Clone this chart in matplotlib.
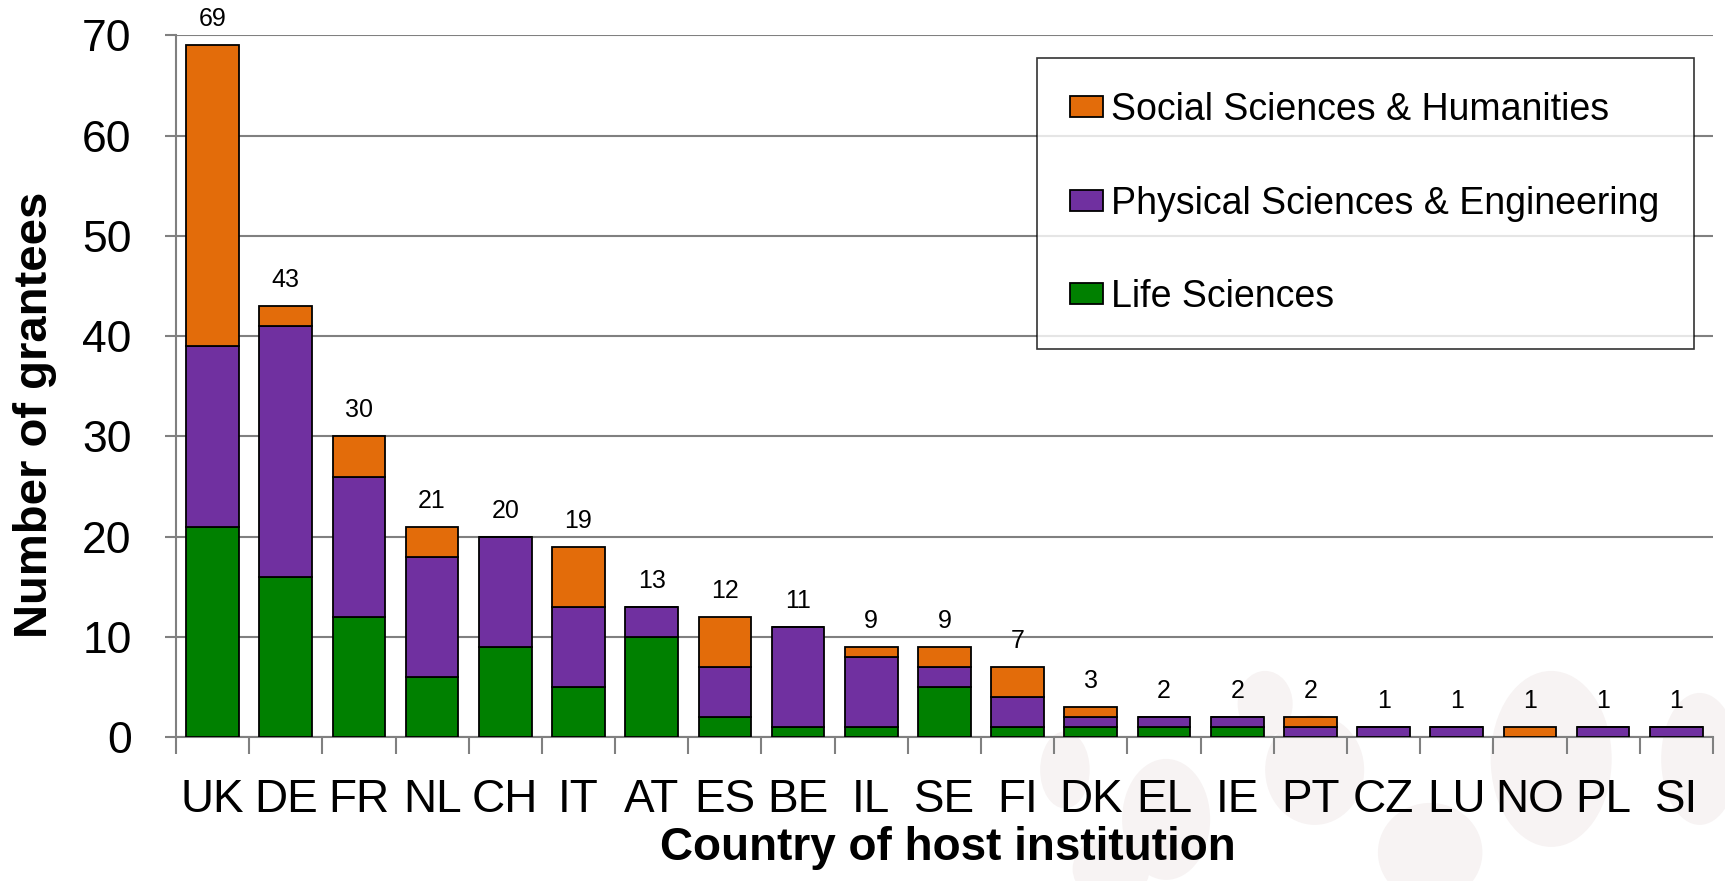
import matplotlib.pyplot as plt
import numpy as np
from matplotlib.patches import Ellipse, Rectangle
from matplotlib.legend_handler import HandlerPatch

countries = ["UK", "DE", "FR", "NL", "CH", "IT", "AT", "ES", "BE", "IL", "SE",
             "FI", "DK", "EL", "IE", "PT", "CZ", "LU", "NO", "PL", "SI"]
life = [21, 16, 12, 6, 9, 5, 10, 2, 1, 1, 5, 1, 1, 1, 1, 0, 0, 0, 0, 0, 0]
physical = [18, 25, 14, 12, 11, 8, 3, 5, 10, 7, 2, 3, 1, 1, 1, 1, 1, 1, 0, 1, 1]
social = [30, 2, 4, 3, 0, 6, 0, 5, 0, 1, 2, 3, 1, 0, 0, 1, 0, 0, 1, 0, 0]

plt.rcParams['font.family'] = ['Liberation Sans', 'DejaVu Sans']

fig = plt.figure(figsize=(17.25, 8.81), dpi=100)

# faint decorative blobs behind the chart, bottom right (pixel centre x, y, width, height)
W, H = 1568, 801
for cx, cy, bw, bh in [(968, 700, 45, 70), (1060, 745, 80, 110), (1195, 700, 90, 100),
                       (1300, 775, 95, 90), (1410, 690, 110, 160), (1545, 690, 70, 120),
                       (1010, 790, 70, 60), (1150, 640, 50, 60)]:
    fig.patches.append(Ellipse((cx / W, 1 - cy / H), bw / W, bh / H, transform=fig.transFigure,
                               facecolor="#f7f3f3", edgecolor="none", zorder=-1))

ax = fig.add_axes([0.102, 0.163, 0.891, 0.797])
ax.set_facecolor("none")

x = np.arange(len(countries))
life = np.array(life)
physical = np.array(physical)
social = np.array(social)
w = 0.72
ax.bar(x, life, w, color="#008000", edgecolor="black", linewidth=1.3, label="Life Sciences", zorder=3)
ax.bar(x, physical, w, bottom=life, color="#7030A0", edgecolor="black", linewidth=1.3,
       label="Physical Sciences & Engineering", zorder=3)
ax.bar(x, social, w, bottom=life + physical, color="#E36C0A", edgecolor="black", linewidth=1.3,
       label="Social Sciences & Humanities", zorder=3)

totals = life + physical + social
for xi, t in zip(x, totals):
    ax.text(xi, t + 1.4, str(t), ha="center", va="bottom", fontsize=18)

ax.set_xlim(-0.5, len(countries) - 0.5)
ax.set_ylim(0, 70)
ax.set_yticks(range(0, 71, 10))
ax.yaxis.grid(True, color="#808080", linewidth=1.5, zorder=0)
ax.set_axisbelow(True)
for s in ["top", "right"]:
    ax.spines[s].set_visible(False)
ax.spines["left"].set_color("#808080")
ax.spines["bottom"].set_color("#808080")
ax.spines["left"].set_linewidth(1.5)
ax.spines["bottom"].set_linewidth(1.5)

ax.set_xticks(x)
ax.set_xticklabels(countries, fontsize=33)
ax.set_xticks(np.arange(-0.5, len(countries)), minor=True)
ax.tick_params(axis="x", which="major", length=0, pad=29)
ax.tick_params(axis="x", which="minor", length=12, width=1.5, color="#808080")
ax.tick_params(axis="y", labelsize=32, length=8, width=1.5, color="#808080", pad=24)

ax.set_xlabel("Country of host institution", fontsize=33, fontweight="bold", va="center")
ax.xaxis.set_label_coords(0.502, -0.157)
ax.set_ylabel("Number of grantees", fontsize=34, fontweight="bold", va="center")
ax.yaxis.set_label_coords(-0.092, 0.459)


def square_right(legend, orig_handle, xdescent, ydescent, width, height, fontsize):
    return Rectangle((-xdescent + width - height, -ydescent), height, height)


h, l = ax.get_legend_handles_labels()
leg = ax.legend(h[::-1], l[::-1], loc="upper left", bbox_to_anchor=(0.560, 0.967, 0.4276, 0.0),
                mode="expand", fontsize=27, frameon=True, fancybox=False, edgecolor="black",
                labelspacing=1.53, handlelength=0.88, handleheight=0.47, handletextpad=0.2,
                borderpad=0.9, borderaxespad=0,
                handler_map={Rectangle: HandlerPatch(patch_func=square_right)})
leg.get_frame().set_linewidth(1.2)
leg.set_zorder(5)

fig.savefig("out.png", dpi=100)
